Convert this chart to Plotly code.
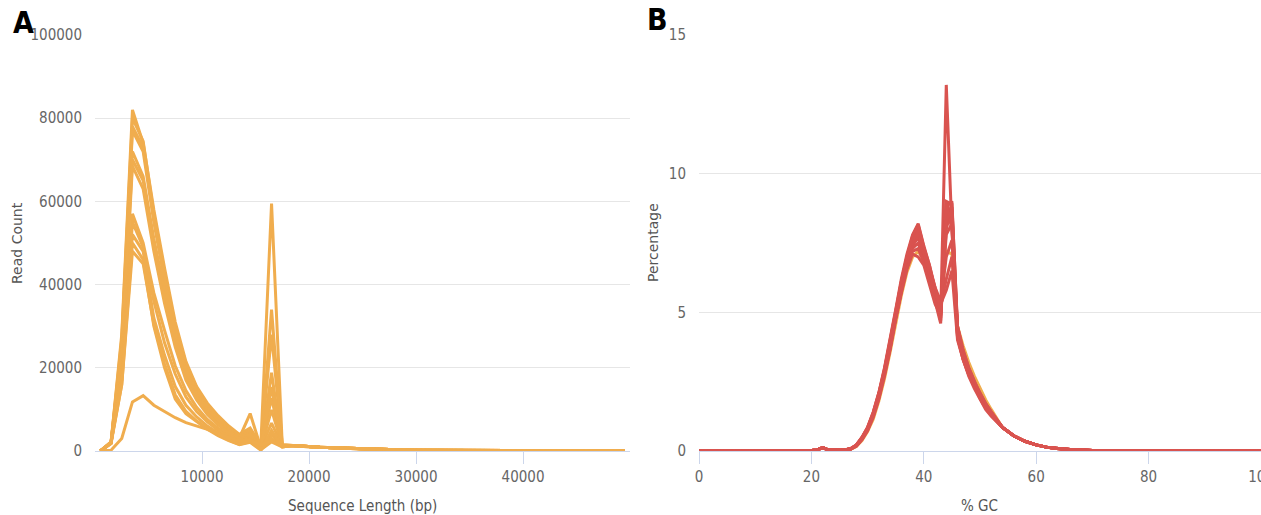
import plotly.graph_objects as go

# ---------------- Panel A: sequence length distribution ----------------
LENGTH_BINS = [500, 1500, 2500, 3500, 4500, 5500, 6500, 7500, 8500, 9500,
               10500, 11500, 12500, 13500, 14500, 15500, 16500, 17500]
LENGTH_TAIL_BINS = [18500, 19500, 21000, 23000, 25000, 27500, 30000, 35000, 40000, 45000, 49500]
LENGTH_TAIL_COUNTS = [1300, 1100, 900, 700, 500, 350, 200, 100, 60, 30, 20]

READS_S1 = [0, 2000, 28000, 82000, 74000, 58000, 44000, 31000, 21500, 15500, 11500, 8500, 6000, 4000, 5500, 1500, 59500, 1500]
READS_S2 = [0, 2100, 27000, 80000, 74500, 57000, 43000, 30000, 21000, 15000, 11000, 8000, 5600, 3800, 4800, 1200, 28000, 1400]
READS_S3 = [0, 1900, 26000, 78000, 73000, 56000, 42000, 29000, 20000, 14500, 10500, 7600, 5300, 3600, 4200, 1000, 12700, 1300]
READS_S4 = [0, 2000, 25000, 77000, 72000, 55000, 41000, 28000, 19500, 14000, 10000, 7200, 5000, 3400, 3800, 900, 6700, 1200]
READS_S5 = [0, 2200, 24000, 72000, 66000, 51000, 38500, 27000, 19000, 13500, 9600, 6900, 4800, 3200, 9000, 800, 34000, 1500]
READS_S6 = [0, 2000, 23000, 70000, 65000, 50000, 37000, 26000, 18000, 13000, 9200, 6600, 4600, 3000, 4000, 700, 18800, 1300]
READS_S7 = [0, 1800, 22000, 68500, 63000, 48000, 35500, 25000, 17000, 12300, 8800, 6300, 4400, 2800, 3200, 600, 9900, 1200]
READS_S8 = [0, 2000, 19000, 57000, 50000, 38000, 29000, 20500, 14500, 10500, 7600, 5500, 3800, 2400, 3000, 500, 15400, 1200]
READS_S9 = [0, 1900, 18000, 55000, 49000, 36000, 26000, 18500, 13000, 9500, 7000, 5000, 3400, 2100, 2700, 400, 3900, 1100]
READS_S10 = [0, 2000, 17000, 52000, 48000, 32000, 23000, 15500, 11000, 8200, 6000, 4300, 2900, 1800, 2500, 300, 2200, 1000]
READS_S11 = [0, 1800, 16000, 50000, 46000, 30000, 20000, 12500, 9000, 7000, 5200, 3700, 2500, 1500, 2100, 200, 5000, 1000]
READS_S12 = [0, 2100, 16000, 48000, 45000, 30500, 21000, 13500, 9500, 7200, 5400, 3900, 2600, 1600, 2300, 300, 3000, 1000]
READS_LOW = [0, 200, 3000, 11800, 13300, 11000, 9500, 8000, 6800, 6000, 5200, 4200, 3200, 2500, 2600, 1500, 2500, 1200]

LENGTH_SAMPLES = [READS_S1, READS_S2, READS_S3, READS_S4, READS_S5, READS_S6, READS_S7,
                  READS_S8, READS_S9, READS_S10, READS_S11, READS_S12, READS_LOW]

# ---------------- Panel B: per-sequence GC content ----------------
GC_LEFT_X = [0, 5, 10, 15, 20, 21, 22, 23, 24, 25, 26]
GC_LEFT_PCT = [0, 0, 0.005, 0.01, 0.02, 0.04, 0.12, 0.04, 0.05, 0.03, 0.04]
GC_CORE_X = list(range(27, 53))
GC_RIGHT_X = [54, 56, 58, 60, 62, 64, 66, 70, 80, 100]
GC_RIGHT_PCT = [0.85, 0.55, 0.35, 0.22, 0.13, 0.08, 0.05, 0.02, 0.005, 0]

GC_R1 = [0.08, 0.2, 0.45, 0.8, 1.3, 2.0, 2.8, 3.8, 4.9, 5.9, 6.8, 7.4, 7.7, 7.1, 6.4, 5.6, 4.9, 13.2, 8.0, 4.3, 3.5, 2.9, 2.4, 2.0, 1.65, 1.35]
GC_R2 = [0.09, 0.22, 0.5, 0.85, 1.4, 2.1, 3.0, 4.0, 5.1, 6.2, 7.1, 7.8, 8.2, 7.4, 6.7, 5.8, 5.0, 9.0, 8.9, 4.5, 3.6, 3.0, 2.5, 2.05, 1.7, 1.4]
GC_R3 = [0.08, 0.21, 0.48, 0.82, 1.35, 2.05, 2.9, 3.9, 5.0, 6.1, 7.0, 7.7, 8.1, 7.3, 6.6, 5.7, 4.7, 8.8, 9.0, 4.4, 3.5, 2.9, 2.4, 2.0, 1.65, 1.35]
GC_R4 = [0.07, 0.19, 0.44, 0.78, 1.28, 1.95, 2.8, 3.75, 4.85, 5.85, 6.75, 7.4, 7.8, 7.0, 6.3, 5.5, 4.8, 8.5, 8.6, 4.2, 3.4, 2.8, 2.35, 1.95, 1.6, 1.3]
GC_R5 = [0.08, 0.2, 0.46, 0.8, 1.3, 2.0, 2.85, 3.85, 4.95, 5.95, 6.9, 7.6, 8.0, 7.2, 6.5, 5.7, 5.1, 7.8, 8.2, 4.3, 3.5, 2.9, 2.4, 2.0, 1.65, 1.35]
GC_R6 = [0.07, 0.18, 0.42, 0.75, 1.25, 1.9, 2.75, 3.7, 4.8, 5.8, 6.7, 7.3, 7.5, 6.9, 6.2, 5.4, 4.6, 9.0, 8.4, 4.1, 3.3, 2.75, 2.3, 1.9, 1.55, 1.3]
GC_R7 = [0.09, 0.21, 0.47, 0.83, 1.35, 2.05, 2.9, 3.9, 5.0, 6.0, 6.95, 7.7, 8.1, 7.3, 6.6, 5.9, 5.4, 7.0, 7.6, 4.4, 3.55, 2.95, 2.45, 2.05, 1.7, 1.4]
GC_R8 = [0.08, 0.2, 0.45, 0.8, 1.3, 2.0, 2.8, 3.8, 4.9, 5.9, 6.8, 7.5, 7.9, 7.1, 6.4, 5.6, 5.2, 6.2, 7.0, 4.2, 3.4, 2.85, 2.35, 1.95, 1.6, 1.3]
GC_R9 = [0.07, 0.19, 0.43, 0.77, 1.27, 1.93, 2.75, 3.7, 4.8, 5.75, 6.6, 7.2, 7.3, 6.8, 6.1, 5.4, 5.0, 8.0, 8.8, 4.3, 3.45, 2.85, 2.4, 2.0, 1.6, 1.3]
GC_R10 = [0.08, 0.2, 0.45, 0.79, 1.3, 1.98, 2.82, 3.8, 4.9, 5.9, 6.85, 7.55, 7.95, 7.15, 6.45, 5.65, 5.3, 5.8, 6.5, 4.0, 3.3, 2.75, 2.3, 1.9, 1.55, 1.28]
GC_R11 = [0.09, 0.22, 0.49, 0.86, 1.4, 2.1, 2.95, 3.95, 5.05, 6.1, 7.0, 7.75, 8.15, 7.35, 6.7, 5.9, 5.1, 8.9, 8.0, 4.5, 3.65, 3.0, 2.5, 2.1, 1.72, 1.42]
GC_R12 = [0.07, 0.18, 0.41, 0.74, 1.22, 1.88, 2.7, 3.65, 4.75, 5.7, 6.55, 7.1, 7.0, 6.7, 6.0, 5.3, 4.9, 8.3, 8.7, 4.1, 3.3, 2.7, 2.25, 1.85, 1.5, 1.25]
GC_ORANGE = [0.06, 0.16, 0.38, 0.7, 1.15, 1.8, 2.6, 3.55, 4.6, 5.6, 6.45, 7.0, 7.2, 6.9, 6.3, 5.6, 5.2, 7.2, 7.1, 4.5, 3.8, 3.2, 2.7, 2.25, 1.85, 1.5]

GC_RED_SAMPLES = [GC_R1, GC_R2, GC_R3, GC_R4, GC_R5, GC_R6, GC_R7, GC_R8, GC_R9, GC_R10, GC_R11, GC_R12]

ORANGE = "#f0ad4e"
RED = "#d9534f"
GRID = "#e6e6e6"
AXIS = "#ccd6eb"
NARROW = "DejaVu Sans Condensed, Liberation Sans Narrow, Roboto Condensed, Roboto, sans-serif"
TICKFONT = dict(family=NARROW, size=15, color="#666666")

fig = go.Figure()

for vals in LENGTH_SAMPLES:
    fig.add_trace(go.Scatter(x=LENGTH_BINS + LENGTH_TAIL_BINS, y=vals + LENGTH_TAIL_COUNTS,
                             mode="lines", line=dict(color=ORANGE, width=3),
                             xaxis="x", yaxis="y", showlegend=False, hoverinfo="skip"))

gc_x = GC_LEFT_X + GC_CORE_X + GC_RIGHT_X
fig.add_trace(go.Scatter(x=gc_x, y=GC_LEFT_PCT + GC_ORANGE + GC_RIGHT_PCT,
                         mode="lines", line=dict(color=ORANGE, width=3),
                         xaxis="x2", yaxis="y2", showlegend=False, hoverinfo="skip"))
for vals in GC_RED_SAMPLES:
    fig.add_trace(go.Scatter(x=gc_x, y=GC_LEFT_PCT + vals + GC_RIGHT_PCT,
                             mode="lines", line=dict(color=RED, width=3),
                             xaxis="x2", yaxis="y2", showlegend=False, hoverinfo="skip"))

W, H = 1261, 515
ydom = [(H - 451) / H, (H - 35) / H]

common_x = dict(showgrid=False, zeroline=False, showline=True, linecolor=AXIS, linewidth=1,
                ticks="outside", ticklen=12, tickcolor=AXIS, tickwidth=1, tickfont=TICKFONT,
                automargin=False, ticklabeloverflow="allow")
common_y = dict(showgrid=True, gridcolor=GRID, gridwidth=1, zeroline=False, showline=False,
                ticks="", tickfont=TICKFONT, ticklabelstandoff=12, automargin=False)

fig.update_layout(
    template="none",
    width=W, height=H,
    margin=dict(l=0, r=0, t=0, b=0, autoexpand=False),
    paper_bgcolor="white", plot_bgcolor="white",
    xaxis=dict(domain=[95 / W, 630 / W], range=[0, 50000],
               tickvals=[10000, 20000, 30000, 40000], ticktext=["10000", "20000", "30000", "40000"],
               anchor="y", **common_x),
    yaxis=dict(domain=ydom, range=[0, 100000], tickvals=[0, 20000, 40000, 60000, 80000, 100000],
               ticktext=["0", "20000", "40000", "60000", "80000", "100000"], anchor="x", **common_y),
    xaxis2=dict(domain=[699 / W, 1.0], range=[0, 100], tickvals=[0, 20, 40, 60, 80, 100],
                anchor="y2", **common_x),
    yaxis2=dict(domain=ydom, range=[0, 15], tickvals=[0, 5, 10, 15], anchor="x2", **common_y),
)

label_font = dict(family="DejaVu Sans Condensed, Liberation Sans Narrow, sans-serif", size=30, color="black")
title_font = dict(family="DejaVu Sans, sans-serif", size=14, color="#555555")
xtitle_font = dict(family=NARROW, size=15, color="#555555")

annotations = [
    dict(text="<b>A</b>", x=11 / W, y=(H - 42) / H, xanchor="left", yanchor="bottom", font=label_font),
    dict(text="<b>B</b>", x=645 / W, y=(H - 39) / H, xanchor="left", yanchor="bottom", font=label_font),
    dict(text="Read Count", x=17 / W, y=(H - 243) / H, textangle=-90, xanchor="center", yanchor="middle", font=title_font),
    dict(text="Percentage", x=653 / W, y=(H - 243) / H, textangle=-90, xanchor="center", yanchor="middle", font=title_font),
    dict(text="Sequence Length (bp)", x=362 / W, y=(H - 506) / H, xanchor="center", yanchor="middle", font=xtitle_font),
    dict(text="% GC", x=979 / W, y=(H - 506) / H, xanchor="center", yanchor="middle", font=xtitle_font),
]
for a in annotations:
    a.update(xref="paper", yref="paper", showarrow=False)
fig.update_layout(annotations=annotations)

fig.write_html("out.html", config={"displayModeBar": False},
               post_script="document.body.style.margin='0';document.body.style.overflow='hidden';")
